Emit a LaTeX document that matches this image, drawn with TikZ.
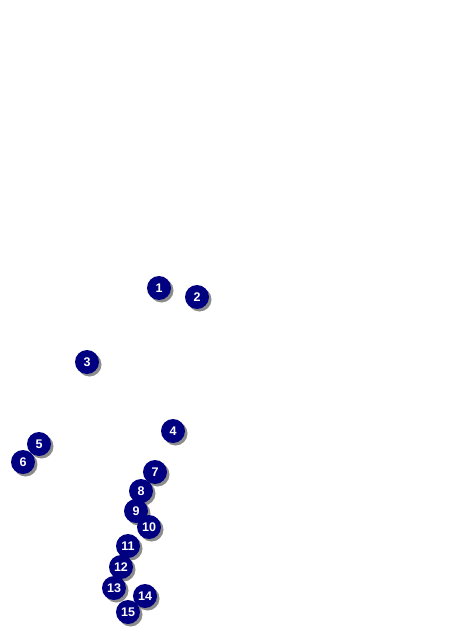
\documentclass[tikz,border=0pt]{standalone}
\usepackage{fontspec}
\setmainfont{Liberation Sans}
\usepackage{tikz}
\usetikzlibrary{shadows}

\tikzset{
    marker/.style={circle, fill={rgb,255:red,0;green,0;blue,128}, draw=none,
        minimum size=24pt, inner sep=0pt, text=white,
        font=\fontsize{12.5}{14}\selectfont\bfseries,
        drop shadow={shadow xshift=2.5pt, shadow yshift=-2.5pt, fill=black!45, opacity=1}}
}

\begin{document}
\begin{tikzpicture}[x=1pt, y=-1pt]
    \useasboundingbox (0,0) rectangle (468,636);
    \foreach \n/\px/\py in {1/159/288, 2/197/297, 3/87/362, 4/173/431, 5/39/444,
        6/23/462, 7/155/472, 8/141/491, 9/136/511, 10/149/527, 11/128/546,
        12/121/567, 13/114/588, 14/145/596, 15/128/612}
        \node[marker] (m\n) at (\px,\py) {\n};
\end{tikzpicture}
\end{document}
